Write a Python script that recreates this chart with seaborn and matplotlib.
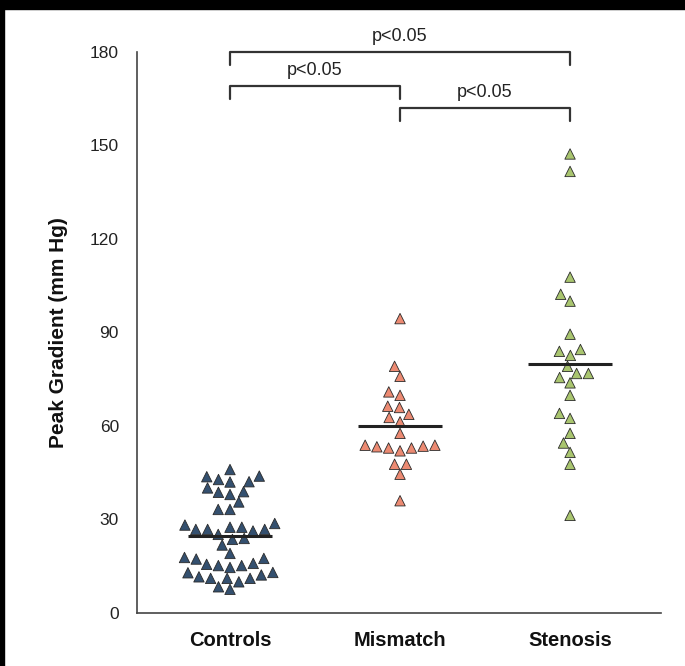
import numpy as np
import pandas as pd
import matplotlib
matplotlib.use("Agg")
import matplotlib.pyplot as plt
from matplotlib.patches import Rectangle
import seaborn as sns

# ---- data ----
categories = ["Controls", "Mismatch", "Stenosis"]

controls = [46.0, 43.9, 42.8, 43.7, 42.0, 42.1, 40.1, 38.9, 38.0, 38.7, 35.6,
            33.2, 33.2, 26.8, 26.8, 28.2, 27.5, 27.5, 28.7, 26.3, 26.8, 25.2,
            23.6, 23.9, 21.8, 19.1, 17.8, 17.3, 15.6, 15.2, 15.2, 15.9, 17.5,
            14.6, 13.0, 12.2, 11.1, 11.1, 11.6, 12.9, 11.1, 10.0, 7.6, 8.4]
mismatch = [94.4, 79.1, 75.9, 69.8, 70.9, 65.9, 66.3, 63.7, 62.7, 61.3, 57.6,
            53.8, 53.5, 52.9, 52.0, 52.9, 53.3, 53.8, 47.7, 47.7, 44.5, 36.0]
stenosis = [147.2, 141.6, 107.7, 102.2, 100.0, 89.4, 84.5, 82.6, 83.9, 79.1,
            76.8, 75.5, 76.8, 73.8, 69.8, 64.0, 62.4, 57.6, 54.5, 51.5, 47.7, 31.3]

y_ticks = [0, 30, 60, 90, 120, 150, 180]
y_label = "Peak Gradient (mm Hg)"

comparisons = [("Controls", "Stenosis"), ("Controls", "Mismatch"), ("Mismatch", "Stenosis")]
comparison_labels = ["p<0.05", "p<0.05", "p<0.05"]

colors = {"Controls": "#34506f", "Mismatch": "#ec8a72", "Stenosis": "#a9c56f"}

df = pd.DataFrame({
    "group": (["Controls"] * len(controls) + ["Mismatch"] * len(mismatch)
              + ["Stenosis"] * len(stenosis)),
    "value": controls + mismatch + stenosis,
})

# ---- style ----
sns.set_style("white")
plt.rcParams["font.family"] = ["Liberation Sans", "DejaVu Sans"]

fig = plt.figure(figsize=(6.85, 6.66), dpi=100)
ax = fig.add_axes([0.2, 0.0796, 0.765, 0.8428])

sns.swarmplot(data=df, x="group", y="value", hue="group", order=categories,
              palette=colors, marker="^", size=7.5, edgecolor="#2a2a2a",
              linewidth=0.6, legend=False, ax=ax, zorder=3)

sns.pointplot(data=df, x="group", y="value", order=categories, estimator="mean",
              errorbar=None, color="#222222", markers="_", linestyles="none",
              markersize=60, markeredgewidth=2.2, ax=ax, zorder=5)

ax.set_ylim(0, 180)
ax.set_xlim(-0.547, 2.535)
ax.set_yticks(y_ticks)
ax.set_yticklabels([str(t) for t in y_ticks], fontsize=12.5, color="#222222")
ax.set_xticks(range(len(categories)))
ax.set_xticklabels(categories, fontsize=14.5, fontweight="bold", color="#111111")
ax.set_xlabel("")
ax.set_ylabel(y_label, fontsize=15, fontweight="bold", labelpad=16, color="#111111")

for side in ["top", "right"]:
    ax.spines[side].set_visible(False)
for side in ["left", "bottom"]:
    ax.spines[side].set_linewidth(1.2)
    ax.spines[side].set_color("#444444")
ax.tick_params(axis="both", direction="out", length=7, width=1.2, color="#444444")
ax.tick_params(axis="y", pad=6)
ax.tick_params(axis="x", pad=6)

# ---- significance brackets ----
bracket_tops = [180, 169, 162]
bracket_drop = 4.2
label_offset = 5
for (a, b), lab, top in zip(comparisons, comparison_labels, bracket_tops):
    xa, xb = categories.index(a), categories.index(b)
    ax.plot([xa, xa, xb, xb], [top - bracket_drop, top, top, top - bracket_drop],
            color="#333333", lw=1.6, clip_on=False, zorder=4)
    ax.text((xa + xb) / 2, top + label_offset, lab, ha="center", va="center",
            fontsize=13, color="#222222", clip_on=False)

# ---- black frame remnants (top and left edges of the reference) ----
fig.patches.append(Rectangle((0, 1 - 9 / 666), 1, 9 / 666, transform=fig.transFigure,
                             color="black", zorder=10))
fig.patches.append(Rectangle((0, 0), 4 / 685, 1, transform=fig.transFigure,
                             color="black", zorder=10))

fig.savefig("out.png", dpi=100)
